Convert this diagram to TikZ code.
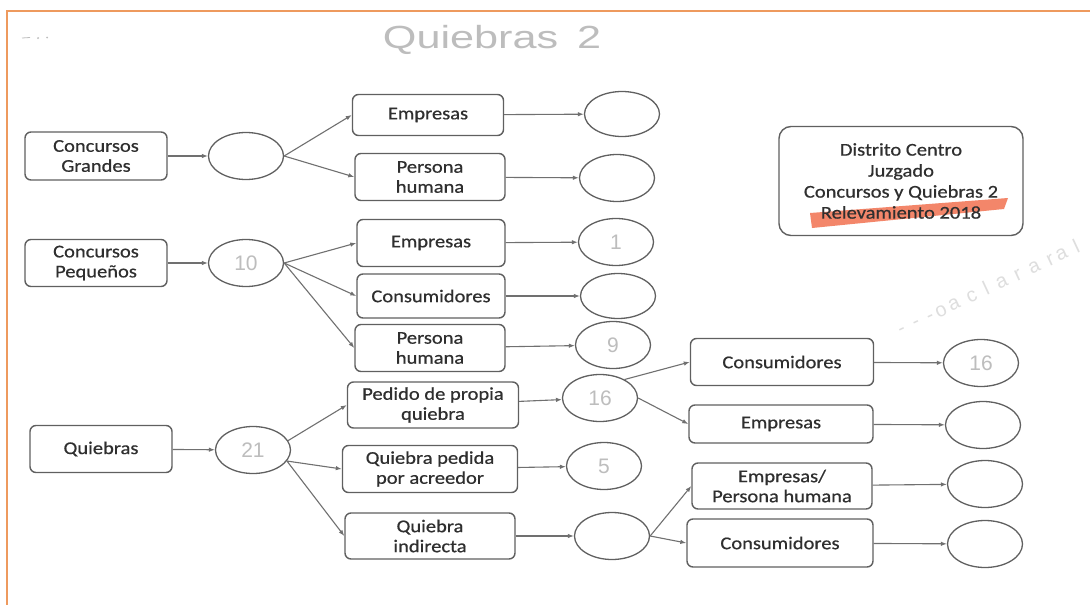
\documentclass[tikz,border=0pt]{standalone}
\usepackage{fontspec}
\setmainfont{Carlito}[FakeStretch=1.14,FakeBold=0.6]
\newfontfamily\handfont{Liberation Sans}
\newfontfamily\notefont{Liberation Sans}[LetterSpace=45]
\usetikzlibrary{arrows.meta,shapes.geometric}
\definecolor{frameorange}{HTML}{EE9A5E}
\definecolor{boxline}{HTML}{606060}
\definecolor{arrline}{HTML}{707070}
\definecolor{txt}{HTML}{2F2F2F}
\definecolor{hand}{HTML}{BDBDBD}
\definecolor{marker}{HTML}{F2795A}
\tikzset{
  box/.style={draw=boxline, line width=1.4pt, rounded corners=6pt, inner sep=0pt,
    align=center, text=txt, font=\fontsize{18}{20}\selectfont},
  oval/.style={draw=boxline, line width=1.3pt, ellipse, inner sep=0pt,
    minimum width=75pt, minimum height=47pt, text=hand,
    font=\handfont\fontsize{21}{21}\selectfont},
  conn/.style={draw=arrline, line width=1.1pt, -{Latex[length=6pt,width=4.5pt]}}
}
\begin{document}
\begin{tikzpicture}[x=1pt,y=-1pt]
\useasboundingbox (0,0) rectangle (1090,605);
\fill[white] (0,0) rectangle (1090,605);
% orange frame
\draw[frameorange, line width=2.6pt] (1090,11) -- (7,11) -- (7,605);
% handwritten marks
\node[text=hand, font=\handfont\fontsize{32}{32}\selectfont] (title) at (492,40) {\scalebox{1.35}[1]{Quiebras\hspace{14pt}2}};
\draw[hand, line width=0.8pt] (22,38) -- (30,37.5);
\fill[hand] (38,38) circle (1pt) (47,37.5) circle (1pt);
\node[text=hand!50, font=\notefont\fontsize{20}{20}\selectfont, rotate=25] (note) at (988,287) {---\,o\,aclarar\,al};

% left column
\node[box, minimum width=142pt, minimum height=48pt] (cg) at (96,156) {Concursos\\Grandes};
\node[box, minimum width=142pt, minimum height=47pt] (cp) at (96,263) {Concursos\\Pequeños};
\node[box, minimum width=142pt, minimum height=47pt] (qb) at (101,449) {Quiebras};

\node[oval] (e1) at (246,156) {};
\node[oval] (e2) at (246,263) {10};
\node[oval] (e3) at (253,450) {21};

% middle boxes
\node[box, minimum width=151pt, minimum height=41pt] (m1) at (428,115) {Empresas};
\node[box, minimum width=150pt, minimum height=47pt] (m2) at (430,177) {Persona\\humana};
\node[box, minimum width=148pt, minimum height=47pt] (m3) at (431,243) {Empresas};
\node[box, minimum width=148pt, minimum height=44pt] (m4) at (431,296) {Consumidores};
\node[box, minimum width=150pt, minimum height=47pt] (m5) at (430,348) {Persona\\humana};
\node[box, minimum width=171pt, minimum height=46pt] (m6) at (433,405) {Pedido de propia\\quiebra};
\node[box, minimum width=175pt, minimum height=47pt] (m7) at (430,469) {Quiebra pedida\\por acreedor};
\node[box, minimum width=170pt, minimum height=46pt] (m8) at (430,536) {Quiebra\\indirecta};

% middle ovals
\node[oval, minimum height=45pt] (r1) at (622,114) {};
\node[oval] (r2) at (617,178) {};
\node[oval] (r3) at (616,242) {1};
\node[oval, minimum height=45pt] (r4) at (618,296) {};
\node[oval] (r5) at (613,345) {9};
\node[oval] (r6) at (600,398) {16};
\node[oval] (r7) at (604,466) {5};
\node[oval] (r8) at (612,536) {};

% right boxes
\node[box, minimum width=183pt, minimum height=47pt] (s1) at (782,362) {Consumidores};
\node[box, minimum width=184pt, minimum height=38pt] (s2) at (781,424) {Empresas};
\node[box, minimum width=180pt, minimum height=46pt] (s3) at (782,486) {Empresas/\\Persona humana};
\node[box, minimum width=186pt, minimum height=48pt] (s4) at (780,543) {Consumidores};

\node[oval] (t1) at (981,363) {16};
\node[oval] (t2) at (983,425) {};
\node[oval] (t3) at (985,484) {};
\node[oval] (t4) at (985,544) {};

% info box
\fill[marker, opacity=0.9] (810,213) -- (1008,198) -- (1004,209) -- (812,228) -- cycle;
\node[box, minimum width=244pt, minimum height=109pt, rounded corners=12pt,
  font=\fontsize{18}{21}\selectfont] (info) at (901,181)
  {Distrito Centro\\Juzgado\\Concursos y Quiebras 2\\Relevamiento 2018};

% connectors
\draw[conn] (cg) -- (e1);
\draw[conn] (cp) -- (e2);
\draw[conn] (qb) -- (e3);
\draw[conn] (e1.east) -- (m1.west);
\draw[conn] (e1.east) -- (m2.west);
\draw[conn] (e2.east) -- (m3.west);
\draw[conn] (e2.east) -- (m4.west);
\draw[conn] (e2.east) -- (m5.west);
\draw[conn] (e3.15) -- (m6.west);
\draw[conn] (e3.-18) -- (m7.west);
\draw[conn] (e3.-18) -- (m8.west);
\draw[conn] (m1) -- (r1);
\draw[conn] (m2) -- (r2);
\draw[conn] (m3) -- (r3);
\draw[conn] (m4) -- (r4);
\draw[conn] (m5) -- (r5);
\draw[conn] (m6) -- (r6);
\draw[conn] (m7) -- (r7);
\draw[conn] (m8) -- (r8);
\draw[conn] (r6.37) -- (s1.west);
\draw[conn] (r6.east) -- (s2.west);
\draw[conn] (r8.east) -- (s3.west);
\draw[conn] (r8.east) -- (s4.west);
\draw[conn] (s1) -- (t1);
\draw[conn] (s2) -- (t2);
\draw[conn] (s3) -- (t3);
\draw[conn] (s4) -- (t4);
\end{tikzpicture}
\end{document}
